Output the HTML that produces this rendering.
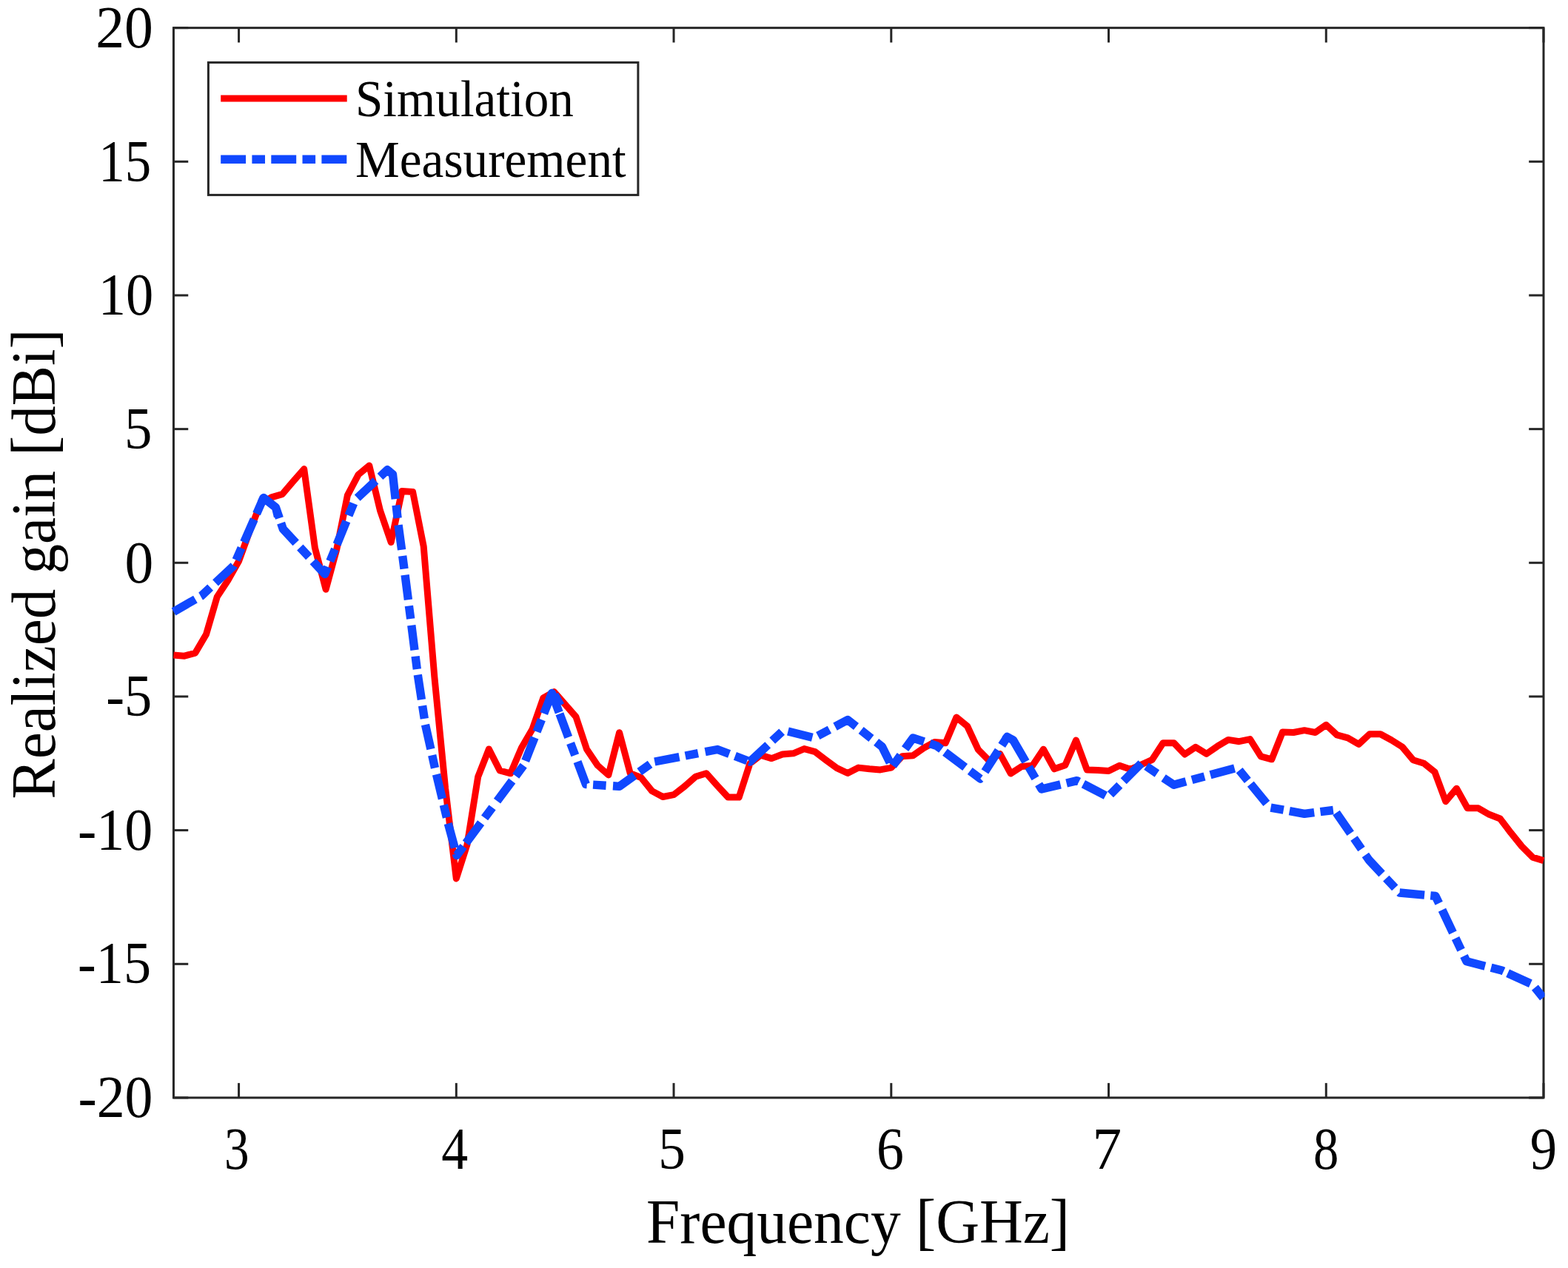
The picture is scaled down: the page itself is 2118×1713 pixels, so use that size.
<!DOCTYPE html>
<html><head><meta charset="utf-8"><title>Realized gain</title>
<style>
html,body{margin:0;padding:0;background:#fff;}
body{width:2118px;height:1713px;overflow:hidden;}
svg{display:block;}
text{font-family:"Liberation Serif",serif;fill:#000;}
</style></head><body>
<svg width="2118" height="1713" viewBox="0 0 2118 1713">
<rect x="0" y="0" width="2118" height="1713" fill="#ffffff"/>

<g stroke="#262626" stroke-width="3.0" fill="none" stroke-linecap="butt">
<rect x="234.45" y="37.65" width="1850.55" height="1445.3"/>
<line x1="322.57" y1="1482.95" x2="322.57" y2="1463.15"/>
<line x1="322.57" y1="37.65" x2="322.57" y2="57.45"/>
<line x1="616.31" y1="1482.95" x2="616.31" y2="1463.15"/>
<line x1="616.31" y1="37.65" x2="616.31" y2="57.45"/>
<line x1="910.05" y1="1482.95" x2="910.05" y2="1463.15"/>
<line x1="910.05" y1="37.65" x2="910.05" y2="57.45"/>
<line x1="1203.79" y1="1482.95" x2="1203.79" y2="1463.15"/>
<line x1="1203.79" y1="37.65" x2="1203.79" y2="57.45"/>
<line x1="1497.52" y1="1482.95" x2="1497.52" y2="1463.15"/>
<line x1="1497.52" y1="37.65" x2="1497.52" y2="57.45"/>
<line x1="1791.26" y1="1482.95" x2="1791.26" y2="1463.15"/>
<line x1="1791.26" y1="37.65" x2="1791.26" y2="57.45"/>
<line x1="2085.00" y1="1482.95" x2="2085.00" y2="1463.15"/>
<line x1="2085.00" y1="37.65" x2="2085.00" y2="57.45"/>
<line x1="234.45" y1="1482.95" x2="254.25" y2="1482.95"/>
<line x1="2085.0" y1="1482.95" x2="2065.2" y2="1482.95"/>
<line x1="234.45" y1="1302.29" x2="254.25" y2="1302.29"/>
<line x1="2085.0" y1="1302.29" x2="2065.2" y2="1302.29"/>
<line x1="234.45" y1="1121.62" x2="254.25" y2="1121.62"/>
<line x1="2085.0" y1="1121.62" x2="2065.2" y2="1121.62"/>
<line x1="234.45" y1="940.96" x2="254.25" y2="940.96"/>
<line x1="2085.0" y1="940.96" x2="2065.2" y2="940.96"/>
<line x1="234.45" y1="760.30" x2="254.25" y2="760.30"/>
<line x1="2085.0" y1="760.30" x2="2065.2" y2="760.30"/>
<line x1="234.45" y1="579.64" x2="254.25" y2="579.64"/>
<line x1="2085.0" y1="579.64" x2="2065.2" y2="579.64"/>
<line x1="234.45" y1="398.97" x2="254.25" y2="398.97"/>
<line x1="2085.0" y1="398.97" x2="2065.2" y2="398.97"/>
<line x1="234.45" y1="218.31" x2="254.25" y2="218.31"/>
<line x1="2085.0" y1="218.31" x2="2065.2" y2="218.31"/>
<line x1="234.45" y1="37.65" x2="254.25" y2="37.65"/>
<line x1="2085.0" y1="37.65" x2="2065.2" y2="37.65"/>
</g>
<defs><clipPath id="ax"><rect x="231.45" y="36.15" width="1855.05" height="1448.3"/></clipPath></defs>
<g clip-path="url(#ax)" fill="none" stroke-linejoin="round">
<path d="M234.4,884.9 L249.1,886.2 L263.8,882.1 L278.5,856.9 L293.2,806.4 L307.9,784.0 L322.6,758.0 L337.3,717.4 L351.9,680.5 L366.6,671.9 L381.3,667.6 L396.0,650.4 L410.7,633.6 L425.4,740.1 L440.1,796.2 L454.8,742.0 L469.4,669.1 L484.1,641.1 L498.8,629.0 L513.5,689.7 L528.2,732.6 L542.9,663.5 L557.6,664.5 L572.2,738.2 L586.9,915.0 L601.6,1065.0 L616.3,1187.0 L631.0,1141.0 L645.7,1049.4 L660.4,1012.0 L675.1,1041.0 L689.7,1044.8 L704.4,1010.2 L719.1,985.0 L733.8,943.0 L748.5,934.6 L763.2,951.4 L777.9,968.2 L792.6,1012.3 L807.2,1034.0 L821.9,1047.0 L836.6,989.7 L851.3,1044.8 L866.0,1050.5 L880.7,1068.6 L895.4,1076.5 L910.0,1073.7 L924.7,1062.4 L939.4,1049.3 L954.1,1044.8 L968.8,1061.2 L983.5,1077.1 L998.2,1077.1 L1012.9,1031.5 L1027.5,1020.1 L1042.2,1024.6 L1056.9,1019.0 L1071.6,1017.8 L1086.3,1011.6 L1101.0,1015.6 L1115.7,1026.9 L1130.4,1037.7 L1145.0,1044.5 L1159.7,1037.1 L1174.4,1038.8 L1189.1,1039.9 L1203.8,1037.1 L1218.5,1021.8 L1233.2,1020.7 L1247.8,1010.5 L1262.5,1002.5 L1277.2,1003.7 L1291.9,969.1 L1306.6,981.0 L1321.3,1012.7 L1336.0,1027.5 L1350.7,1018.4 L1365.3,1045.0 L1380.0,1035.4 L1394.7,1034.3 L1409.4,1012.2 L1424.1,1038.8 L1438.8,1033.7 L1453.5,1000.0 L1468.2,1039.9 L1482.8,1040.5 L1497.5,1041.6 L1512.2,1034.2 L1526.9,1039.3 L1541.6,1033.0 L1556.3,1026.3 L1571.0,1003.7 L1585.6,1003.7 L1600.3,1019.0 L1615.0,1009.3 L1629.7,1018.4 L1644.4,1008.2 L1659.1,999.4 L1673.8,1001.7 L1688.5,998.6 L1703.1,1021.8 L1717.8,1025.8 L1732.5,988.9 L1747.2,989.5 L1761.9,986.7 L1776.6,989.5 L1791.3,979.3 L1805.9,992.9 L1820.6,996.9 L1835.3,1005.4 L1850.0,991.8 L1864.7,991.8 L1879.4,999.8 L1894.1,1009.0 L1908.8,1026.7 L1923.4,1031.2 L1938.1,1043.1 L1952.8,1082.7 L1967.5,1065.2 L1982.2,1091.8 L1996.9,1091.8 L2011.6,1100.3 L2026.3,1106.0 L2040.9,1125.2 L2055.6,1143.4 L2070.3,1158.1 L2085.0,1162.6" stroke="#ff0000" stroke-width="9"/>
<path d="M234.5,826.5 L263.9,809.6 M271.1,805.5 L272.0,805.0 L284.1,793.7 M291.0,787.3 L315.5,764.5 L315.7,764.1 M319.0,756.5 L326.1,740.4 M329.6,732.6 L343.2,701.6 M346.6,694.0 L353.6,677.9 M357.9,674.0 L372.5,685.5 L377.4,700.0 M379.6,706.7 L382.3,714.6 L399.7,733.4 M405.3,739.5 L417.3,752.4 M422.8,758.3 L438.7,775.5 L442.7,765.8 M445.8,758.1 L452.5,741.8 M455.1,735.5 L467.9,704.1 M471.0,696.4 L477.7,680.1 M482.7,672.6 L507.5,649.5 M513.5,643.9 L523.3,634.8 L526.6,637.5 M530.3,640.6 L530.5,640.8 L534.2,674.2 M535.1,682.5 L537.1,700.0 M538.1,709.2 L542.6,742.8 M543.7,751.0 L546.0,768.5 M547.1,776.7 L551.4,810.3 M552.4,818.6 L554.7,836.0 M555.8,844.7 L560.0,878.3 M561.1,886.6 L563.3,904.0 M564.3,911.7 L569.4,945.2 M570.6,953.4 L573.3,970.8 M574.5,979.0 L581.9,1012.1 M583.7,1020.2 L587.5,1037.4 M589.5,1046.2 L597.4,1079.2 M599.3,1087.3 L603.4,1104.4 M605.3,1112.5 L614.2,1145.2 M616.4,1153.2 L617.0,1155.5 L626.1,1143.3 M629.4,1138.8 L649.6,1111.6 M654.6,1104.9 L665.1,1090.8 M671.5,1082.2 L691.7,1055.0 M696.7,1048.3 L707.2,1034.2 M709.7,1027.8 L722.1,996.3 M725.1,988.5 L731.5,972.1 M734.7,964.0 L745.5,936.5 L747.0,940.6 M749.9,948.3 L755.2,962.4 M755.9,964.3 L767.7,996.1 M770.6,1003.9 L776.8,1020.3 M780.0,1029.0 L791.4,1059.5 L792.8,1059.6 M801.1,1060.1 L818.6,1061.2 M828.0,1061.8 L836.6,1062.4 L857.1,1047.6 M863.8,1042.7 L878.1,1032.4 M884.3,1029.0 L917.6,1022.6 M925.7,1021.0 L943.0,1017.6 M952.6,1015.7 L969.2,1012.5 L985.1,1018.5 M992.9,1021.4 L1009.3,1027.6 M1012.2,1028.7 L1012.9,1029.0 L1037.2,1006.4 M1043.2,1000.7 L1056.1,988.7 M1064.4,988.0 L1097.3,996.2 M1104.8,994.0 L1120.4,985.7 M1128.0,981.6 L1145.0,972.5 L1156.5,981.5 M1163.1,986.6 L1176.9,997.4 M1183.6,1002.6 L1191.5,1008.8 L1202.1,1030.2 M1206.1,1034.5 L1216.4,1020.3 M1222.6,1011.7 L1233.2,997.0 L1248.2,1001.9 M1256.0,1004.5 L1265.3,1007.6 L1271.6,1012.3 M1276.5,1016.1 L1303.6,1036.5 M1310.2,1041.5 L1324.2,1052.0 L1324.3,1051.9 M1330.4,1042.3 L1348.7,1013.8 M1353.2,1006.8 L1360.5,995.5 L1364.2,997.5 M1368.4,999.7 L1385.5,1029.0 M1389.6,1036.2 L1398.5,1051.4 M1403.1,1059.4 L1407.0,1066.0 L1432.5,1059.9 M1440.6,1058.0 L1454.7,1054.6 L1457.4,1056.0 M1463.3,1059.1 L1493.4,1074.8 M1499.9,1073.3 L1512.3,1060.8 M1517.7,1055.3 L1541.6,1031.2 M1548.4,1035.1 L1562.9,1045.0 M1571.6,1050.9 L1585.6,1060.3 L1602.0,1055.8 M1610.0,1053.6 L1627.0,1049.0 M1634.9,1046.8 L1667.6,1037.9 M1674.1,1040.7 L1685.3,1054.3 M1689.3,1059.1 L1710.8,1085.3 M1716.5,1091.1 L1733.8,1094.2 M1741.8,1095.7 L1762.0,1099.4 L1775.2,1097.7 M1783.5,1096.7 L1800.9,1094.5 M1805.0,1097.9 L1824.2,1125.8 M1829.0,1132.6 L1839.0,1147.1 M1844.4,1155.0 L1849.3,1162.0 L1866.6,1180.5 M1872.3,1186.6 L1884.3,1199.4 M1890.4,1205.9 L1890.5,1206.0 L1924.1,1209.1 M1932.3,1209.9 L1939.0,1210.5 L1943.7,1220.3 M1948.0,1229.3 L1962.5,1260.0 M1966.1,1267.5 L1973.6,1283.3 M1977.5,1291.5 L1981.0,1298.8 L2006.0,1305.2 M2014.1,1307.3 L2028.6,1311.0 L2031.0,1312.1 M2036.6,1314.7 L2067.4,1328.8 M2073.4,1334.2 L2084.5,1347.9 M353.0,679.0 L356.0,672.5 L372.5,685.5 L375.5,698.0 M742.0,945.0 L745.5,936.5 L752.5,953.0 M749.0,938.5 L757.0,953.0 M521.0,637.5 L523.3,634.8 L530.5,640.8 L531.5,650.0 M1358.0,998.8 L1360.5,995.5 L1368.4,999.7 L1371.0,1004.0" stroke="#1048ff" stroke-width="11.4" stroke-linejoin="round" stroke-miterlimit="3"/>
</g>
<text transform="translate(319.72,1579.30) scale(0.84,1)" font-size="80" text-anchor="middle">3</text>
<text transform="translate(614.21,1579.30) scale(0.898,1)" font-size="80" text-anchor="middle">4</text>
<text transform="translate(907.60,1579.30) scale(0.917,1)" font-size="80" text-anchor="middle">5</text>
<text transform="translate(1202.54,1579.30) scale(0.923,1)" font-size="80" text-anchor="middle">6</text>
<text transform="translate(1495.32,1579.30) scale(0.99,1)" font-size="80" text-anchor="middle">7</text>
<text transform="translate(1791.21,1579.30) scale(0.858,1)" font-size="80" text-anchor="middle">8</text>
<text transform="translate(2084.90,1579.30) scale(0.908,1)" font-size="80" text-anchor="middle">9</text>
<text transform="translate(206.49,1509.15) scale(0.948,1)" font-size="80" text-anchor="end">-20</text>
<text transform="translate(204.02,1328.49) scale(0.928,1)" font-size="80" text-anchor="end">-15</text>
<text transform="translate(206.40,1147.83) scale(0.951,1)" font-size="80" text-anchor="end">-10</text>
<text transform="translate(205.23,967.16) scale(0.932,1)" font-size="80" text-anchor="end">-5</text>
<text transform="translate(207.20,786.50) scale(0.97,1)" font-size="80" text-anchor="end">0</text>
<text transform="translate(205.55,605.84) scale(0.937,1)" font-size="80" text-anchor="end">5</text>
<text transform="translate(207.25,425.17) scale(0.932,1)" font-size="80" text-anchor="end">10</text>
<text transform="translate(204.06,244.51) scale(0.885,1)" font-size="80" text-anchor="end">15</text>
<text transform="translate(206.96,63.85) scale(0.972,1)" font-size="80" text-anchor="end">20</text>
<text transform="translate(1159.00,1679.10) scale(0.958,1)" font-size="85" text-anchor="middle">Frequency [GHz]</text>
<text transform="translate(73.50,762.00) rotate(-90) scale(0.954,1)" font-size="85" text-anchor="middle">Realized gain [dBi]</text>
<rect x="281.4" y="84.4" width="580.5" height="179" fill="#fff" stroke="#262626" stroke-width="3"/>
<line x1="298.2" y1="133.0" x2="468.7" y2="133.0" stroke="#ff0000" stroke-width="9"/>
<line x1="298.2" y1="215.2" x2="468.7" y2="215.2" stroke="#1048ff" stroke-width="11.4" stroke-dasharray="33.9 8.3 17.6 8.3"/>
<text transform="translate(480.00,157.00) scale(0.974,1)" font-size="69" text-anchor="start">Simulation</text>
<text transform="translate(480.00,239.20) scale(0.974,1)" font-size="69" text-anchor="start">Measurement</text>
</svg></body></html>
